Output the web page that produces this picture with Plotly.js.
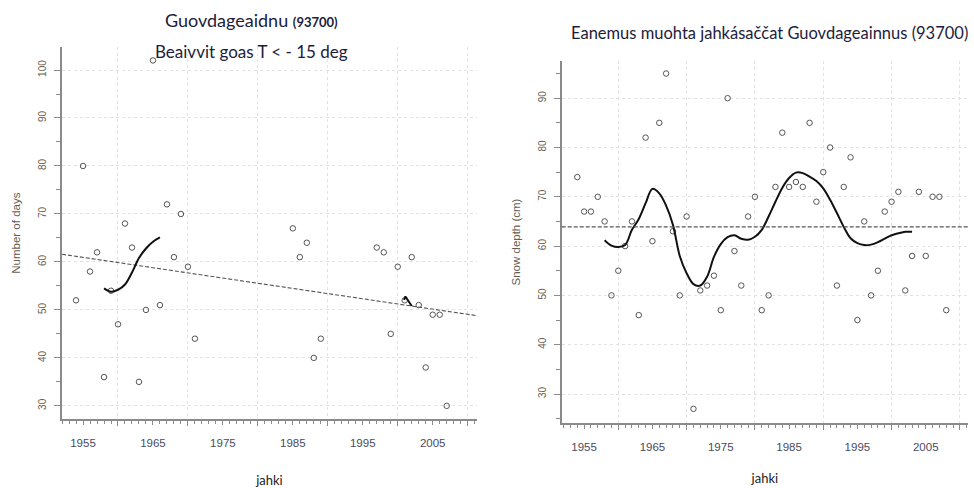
<!DOCTYPE html>
<html><head><meta charset="utf-8">
<script src="https://cdn.plot.ly/plotly-3.0.1.min.js"></script>
<style>html,body{margin:0;padding:0;background:#fff}#chart{width:974px;height:488px}</style>
</head><body><div id="chart"></div>
<script>
// ---- Left chart: days with T < -15 deg ----
const coldYears = [1954,1955,1956,1957,1958,1959,1960,1961,1962,1963,1964,1965,1966,1967,1968,1969,1970,1971,
                   1985,1986,1987,1988,1989,1997,1998,1999,2000,2001,2002,2003,2004,2005,2006,2007];
const coldDays  = [52,80,58,62,36,54,47,68,63,35,50,102,51,72,61,70,59,44,
                   67,61,64,40,44,63,62,45,59,52,61,51,38,49,49,30];
const coldSmoothYears = [1958,1959,1960,1961,1962,1963,1964,1965,1966];
const coldSmoothVals  = [54.5,53.8,54.2,55.3,57.8,60.8,62.8,64.2,65.1];
const coldSmooth2Years = [2000.9,2001.1,2002.0];
const coldSmooth2Vals  = [52.1,52.8,50.8];
const trendYears = [1952.0, 2011.3];
const trendVals  = [61.6, 48.8];

// ---- Right chart: annual max snow depth ----
const snowYears = [1954,1955,1956,1957,1958,1959,1960,1961,1962,1963,1964,1965,1966,1967,1968,1969,1970,
                   1971,1972,1973,1974,1975,1976,1977,1978,1979,1980,1981,1982,1983,1984,1985,1986,1987,
                   1988,1989,1990,1991,1992,1993,1994,1995,1996,1997,1998,1999,2000,2001,2002,2003,2004,
                   2005,2006,2007,2008];
const snowDepth = [74,67,67,70,65,50,55,60,65,46,82,61,85,95,63,50,66,
                   27,51,52,54,47,90,59,52,66,70,47,50,72,83,72,73,72,
                   85,69,75,80,52,72,78,45,65,50,55,67,69,71,51,58,71,
                   58,70,70,47];
const snowSmoothYears = [1958,1959,1960,1961,1962,1963,1964,1965,1966,1967,1968,1969,1970,1971,1972,1973,1974,
                         1975,1976,1977,1978,1979,1980,1981,1982,1983,1984,1985,1986,1987,1988,1989,1990,1991,
                         1992,1993,1994,1995,1996,1997,1998,1999,2000,2001,2002,2003];
const snowSmoothVals  = [61.2,60.1,59.8,60.2,63.3,65.5,68.7,71.6,70.7,68.2,64.3,58.0,54.5,52.3,52.0,53.8,57.8,
                         60.4,61.8,62.2,61.5,61.3,61.9,63.3,66.0,69.0,71.8,73.8,74.9,74.8,74.1,73.2,71.7,69.4,
                         66.7,63.9,61.6,60.6,60.2,60.3,60.8,61.5,62.2,62.6,62.9,62.9];
const snowMean = 63.9;

const decadeTicks = [1960,1970,1980,1990,2000,2010];
const labelTicks  = [1955,1965,1975,1985,1995,2005];

const axisCol = '#8a8a8a';
const gridCol = '#e2e2e2';
const tickFontX = {family:'Liberation Sans, Arial, sans-serif', size:11.5, color:'#4a4a62'};
const tickFontY = {family:'Liberation Sans, Arial, sans-serif', size:10, color:'#6a6050'};
const titleFont = {family:'Lato, sans-serif', color:'#1c1c3c'};

const markerStyle = {symbol:'circle-open', size:5.5, color:'#555', line:{width:1, color:'#555'}};

const traces = [
  {x:coldYears, y:coldDays, type:'scatter', mode:'markers', marker:markerStyle, xaxis:'x', yaxis:'y', hoverinfo:'skip'},
  {x:trendYears, y:trendVals, type:'scatter', mode:'lines', line:{color:'#555', width:1.1, dash:'4px,2px'}, xaxis:'x', yaxis:'y'},
  {x:coldSmoothYears, y:coldSmoothVals, type:'scatter', mode:'lines', line:{color:'#111', width:2, shape:'spline'}, xaxis:'x', yaxis:'y'},
  {x:coldSmooth2Years, y:coldSmooth2Vals, type:'scatter', mode:'lines', line:{color:'#111', width:2}, xaxis:'x', yaxis:'y'},
  {x:[], y:[], type:'scatter', mode:'markers', xaxis:'x3', yaxis:'y'},
  {x:snowYears, y:snowDepth, type:'scatter', mode:'markers', marker:markerStyle, xaxis:'x2', yaxis:'y2'},
  {x:snowSmoothYears, y:snowSmoothVals, type:'scatter', mode:'lines', line:{color:'#111', width:2, shape:'spline'}, xaxis:'x2', yaxis:'y2'},
  {x:[], y:[], type:'scatter', mode:'markers', xaxis:'x4', yaxis:'y2'}
];

function decadeAxis(domain, range, anchor, title, standoff) {
  return {
    domain: domain, range: range, anchor: anchor,
    tickmode:'array', tickvals: decadeTicks, showticklabels:false,
    ticks:'outside', ticklen:5, tickcolor:axisCol, tickwidth:1,
    showgrid:true, gridcolor:gridCol, griddash:'dot', gridwidth:1,
    showline:true, linecolor:axisCol, linewidth:2, zeroline:false,
    minor:{tick0:1950, dtick:1, ticks:'outside', ticklen:3, tickcolor:axisCol, tickwidth:1, showgrid:false},
    title:{text:title, font:{family:'Lato, sans-serif', size:13, color:'#222'}, standoff: standoff}
  };
}
function labelAxis(over, anchor, range) {
  return {
    overlaying: over, anchor: anchor, range: range, side:'bottom',
    tickmode:'array', tickvals: labelTicks, ticktext: labelTicks.map(String),
    ticks:'outside', ticklen:5, tickcolor:axisCol, tickwidth:1,
    showgrid:false, showline:false, zeroline:false,
    tickfont: tickFontX, ticklabelstandoff: 8
  };
}
function valueAxis(domain, range, anchor, title, standoff) {
  return {
    domain: domain, range: range, anchor: anchor,
    tick0:0, dtick:10, tickangle:-90,
    ticks:'outside', ticklen:6, tickcolor:axisCol, tickwidth:1,
    showgrid:true, gridcolor:gridCol, griddash:'dot', gridwidth:1,
    showline:true, linecolor:axisCol, linewidth:2, zeroline:false,
    tickfont: tickFontY, ticklabelstandoff: 4,
    minor:{tick0:0, dtick:5, ticks:'outside', ticklen:4, tickcolor:axisCol, tickwidth:1, showgrid:false},
    title:{text:title, font:{family:'Liberation Sans, Arial, sans-serif', size:11.5, color:'#6a5d50'}, standoff: standoff}
  };
}

const leftX = [1952.0, 2011.3];
const rightX = [1951.72, 2011.18];

const layout = {
  width:974, height:488,
  margin:{l:0, r:0, t:0, b:0},
  paper_bgcolor:'#fff', plot_bgcolor:'#fff',
  showlegend:false,
  xaxis: decadeAxis([0.0637, 0.4895], leftX, 'y', 'jahki', 53),
  xaxis3: labelAxis('x', 'y', leftX),
  yaxis: valueAxis([0.1408, 0.9037], [27.2, 104.8], 'x', 'Number of days', 14),
  xaxis2: decadeAxis([0.5767, 0.9938], rightX, 'y2', 'jahki', 45),
  xaxis4: labelAxis('x2', 'y2', rightX),
  yaxis2: valueAxis([0.1326, 0.8756], [24.06, 97.6], 'x2', 'Snow depth (cm)', 14),
  shapes: [
    {type:'line', xref:'x2 domain', x0:0, x1:1, yref:'y2', y0:snowMean, y1:snowMean,
     line:{color:'#555', width:1.1, dash:'4px,2px'}}
  ],
  annotations: [
    {xref:'paper', yref:'paper', x:251/974, y:1-20/488, xanchor:'center', yanchor:'middle', showarrow:false,
     text:'Guovdageaidnu <span style="font-size:13px"><b>(93700)</b></span>', font:Object.assign({size:18}, titleFont)},
    {xref:'paper', yref:'paper', x:251/974, y:1-51/488, xanchor:'center', yanchor:'middle', showarrow:false,
     text:'Beaivvit goas T &lt; - 15 deg', font:Object.assign({size:17}, titleFont)},
    {xref:'paper', yref:'paper', x:769/974, y:1-33/488, xanchor:'center', yanchor:'middle', showarrow:false,
     text:'Eanemus muohta jahkásaččat Guovdageainnus (93700)', font:Object.assign({size:16.5}, titleFont)}
  ]
};

Plotly.newPlot('chart', traces, layout, {displayModeBar:false, staticPlot:true});
</script></body></html>
